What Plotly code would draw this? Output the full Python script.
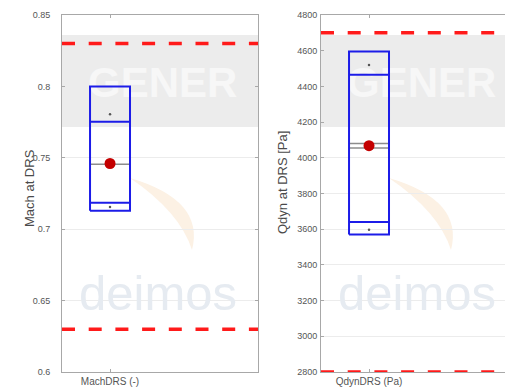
import plotly.graph_objects as go

# ---- data -------------------------------------------------------------
mach_label = "MachDRS (-)"
mach_outer = [0.713, 0.800]        # box bottom / top
mach_inner = [0.7185, 0.7753]      # inner band lines
mach_center = [0.7455]             # grey centre line(s)
mach_mean = 0.746                  # red marker
mach_marks = [0.7155, 0.7805]      # small dots
mach_limits = [0.63, 0.83]         # red dashed limits
mach_ticks = [0.6, 0.65, 0.7, 0.75, 0.8, 0.85]
mach_ticktext = ["0.6", "0.65", "0.7", "0.75", "0.8", "0.85"]

qdyn_label = "QdynDRS (Pa)"
qdyn_outer = [3570, 4595]
qdyn_inner = [3640, 4465]
qdyn_center = [4055, 4080]
qdyn_mean = 4068
qdyn_marks = [3597, 4520]
qdyn_limits = [2800, 4700]
qdyn_ticks = [2800, 3000, 3200, 3400, 3600, 3800, 4000, 4200, 4400, 4600, 4800]
qdyn_ticktext = [str(v) for v in qdyn_ticks]

# ---- figure geometry ------------------------------------------------------
W, H = 505, 390
MT, MB = 15, 18
PLOT_H = H - MT - MB
LEFT_DOM = [62 / W, 258 / W]
RIGHT_DOM = [321 / W, 1.0]
PANEL_PX = 196.0                       # nominal panel width in px
RIGHT_XMAX = (W - 321) / PANEL_PX      # keeps the same px scale in both panels
XC, HW = 0.245, 0.102                  # box centre and half width (axis units)

FONT = "Liberation Sans, Arial, sans-serif"
AXIS_C = "#a8a8a8"
TICK_C = "#555555"
BLUE = "#1c1ce8"
RED_LINE = "#ff1a1a"
RED_DOT = "#c40000"
GREY = "#8c8c8c"

fig = go.Figure()


def px_x(px):
    return px / W


def px_y(py):
    return (H - MB - py) / PLOT_H


def add_watermark(xa, ya, yrange, dx):
    """Faint background logo: grey band, text and an orange swoosh."""
    y0, y1 = yrange

    def yv(py):
        return y0 + (372 - py) / PLOT_H * (y1 - y0)

    x0p = 62 + dx
    x1p = min(258 + dx, W)
    fig.add_shape(type="rect", xref="paper", yref="paper",
                  x0=px_x(x0p), x1=px_x(x1p), y0=px_y(127), y1=px_y(35),
                  fillcolor="#ececec", line_width=0, layer="below")
    # orange swoosh
    pts = [(130, 178), (205, 200), (192, 250), (180, 212), (130, 178)]
    p = [(px_x(a + dx), px_y(b)) for a, b in pts]
    path = (f"M {p[0][0]},{p[0][1]} Q {p[1][0]},{p[1][1]} {p[2][0]},{p[2][1]} "
            f"Q {p[3][0]},{p[3][1]} {p[4][0]},{p[4][1]} Z")
    fig.add_shape(type="path", xref="paper", yref="paper", path=path,
                  fillcolor="#fcf1e4", line_width=0, layer="below")
    fig.add_trace(go.Scatter(
        x=[(88 - 62) / PANEL_PX], y=[yv(86)], mode="text", text=["<b>GENER</b>"],
        textposition="middle right",
        textfont=dict(family=FONT, size=42, color="#f7f7f7"),
        hoverinfo="skip", showlegend=False, xaxis=xa, yaxis=ya))
    fig.add_trace(go.Scatter(
        x=[(158 - 62) / PANEL_PX], y=[yv(298)], mode="text", text=["deimos"],
        textposition="middle center",
        textfont=dict(family=FONT, size=49, color="#e6ebf1"),
        hoverinfo="skip", showlegend=False, xaxis=xa, yaxis=ya))


def add_box(xa, ya, outer, inner, center, mean, marks):
    xl, xr = XC - HW, XC + HW
    for v in center:
        fig.add_trace(go.Scatter(x=[xl, xr], y=[v, v], mode="lines",
                                 line=dict(color=GREY, width=1.5),
                                 hoverinfo="skip", showlegend=False,
                                 xaxis=xa, yaxis=ya))
    fig.add_trace(go.Scatter(
        x=[xl, xr, xr, xl, xl],
        y=[outer[0], outer[0], outer[1], outer[1], outer[0]],
        mode="lines", line=dict(color=BLUE, width=2),
        hoverinfo="skip", showlegend=False, xaxis=xa, yaxis=ya))
    for v in inner:
        fig.add_trace(go.Scatter(x=[xl, xr], y=[v, v], mode="lines",
                                 line=dict(color=BLUE, width=2),
                                 hoverinfo="skip", showlegend=False,
                                 xaxis=xa, yaxis=ya))
    fig.add_trace(go.Scatter(x=[XC] * len(marks), y=marks, mode="markers",
                             marker=dict(color="#555555", size=2.5),
                             hoverinfo="skip", showlegend=False,
                             xaxis=xa, yaxis=ya))
    fig.add_trace(go.Scatter(x=[XC], y=[mean], mode="markers",
                             marker=dict(color=RED_DOT, size=11,
                                         line=dict(width=0)),
                             hoverinfo="skip", showlegend=False,
                             xaxis=xa, yaxis=ya))


def add_limits(yref, dom, limits):
    for v in limits:
        fig.add_shape(type="line", xref="paper", yref=yref,
                      x0=dom[0], x1=dom[1], y0=v, y1=v,
                      line=dict(color=RED_LINE, width=3.5, dash="13px,13.7px"),
                      layer="above")


add_watermark("x", "y", (0.6, 0.85), 0)
add_watermark("x2", "y2", (2800, 4800), 259)

add_box("x", "y", mach_outer, mach_inner, mach_center, mach_mean, mach_marks)
add_box("x2", "y2", qdyn_outer, qdyn_inner, qdyn_center, qdyn_mean, qdyn_marks)

add_limits("y", LEFT_DOM, mach_limits)
add_limits("y2", RIGHT_DOM, qdyn_limits)

common_x = dict(ticks="inside", ticklen=3, tickcolor=AXIS_C, showline=True,
                linecolor=AXIS_C, linewidth=1, showgrid=False, zeroline=False,
                tickfont=dict(family=FONT, size=10, color=TICK_C))
common_y = dict(ticks="inside", ticklen=3, tickcolor=AXIS_C, showline=True,
                linecolor=AXIS_C, linewidth=1, showgrid=True,
                gridcolor="#ececec", zeroline=False,
                tickfont=dict(family=FONT, size=9, color=TICK_C))

fig.update_layout(
    width=W, height=H,
    margin=dict(l=0, r=0, t=MT, b=MB, pad=0),
    paper_bgcolor="white", plot_bgcolor="white",
    showlegend=False,
    xaxis=dict(domain=LEFT_DOM, range=[0, 1], tickvals=[XC],
               ticktext=[mach_label], mirror="ticks", anchor="y", **common_x),
    yaxis=dict(domain=[0, 1], range=[0.6, 0.85], tickvals=mach_ticks,
               ticktext=mach_ticktext, mirror="ticks", anchor="x",
               ticklabelstandoff=9, **common_y),
    xaxis2=dict(domain=RIGHT_DOM, range=[0, RIGHT_XMAX], tickvals=[XC],
                ticktext=[qdyn_label], mirror="ticks", anchor="y2", **common_x),
    yaxis2=dict(domain=[0, 1], range=[2800, 4800], tickvals=qdyn_ticks,
                ticktext=qdyn_ticktext, mirror=False, anchor="x2",
                ticklabelstandoff=1, **common_y),
    annotations=[
        dict(text="Mach at DRS", xref="paper", yref="paper",
             x=px_x(29), y=px_y(188), textangle=-90, showarrow=False,
             xanchor="center", yanchor="middle",
             font=dict(family=FONT, size=13, color="#4a4a4a")),
        dict(text="Qdyn at DRS [Pa]", xref="paper", yref="paper",
             x=px_x(282), y=px_y(183), textangle=-90, showarrow=False,
             xanchor="center", yanchor="middle",
             font=dict(family=FONT, size=13, color="#4a4a4a")),
    ],
)

fig.write_html("out.html")
